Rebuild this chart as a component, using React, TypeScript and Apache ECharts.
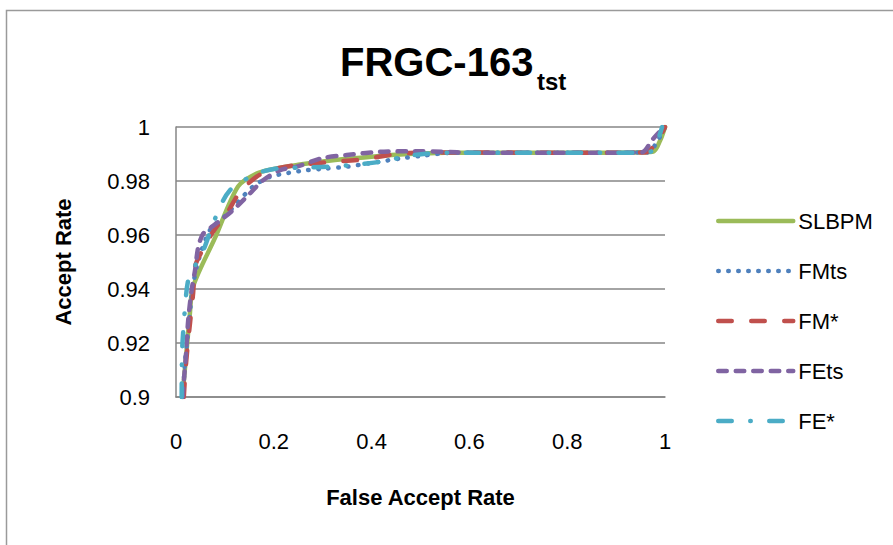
import React, { useEffect, useRef } from "react";
import * as echarts from "echarts";

const seriesNames = ["SLBPM", "FMts", "FM*", "FEts", "FE*"];
const seriesColors = ["#9BBB59", "#4F81BD", "#C0504D", "#8064A2", "#4BACC6"];

const xTickLabels = ["0", "0.2", "0.4", "0.6", "0.8", "1"];
const yTickLabels = ["0.9", "0.92", "0.94", "0.96", "0.98", "1"];

const slbpmX = [0.013, 0.018, 0.022, 0.028, 0.035, 0.08, 0.127, 0.165, 0.2, 0.25, 0.3, 0.35, 0.4, 0.45, 0.5, 0.55, 0.6, 0.7, 0.8, 0.9, 0.975, 0.99, 1.0];
const slbpmY = [0.9, 0.91, 0.918, 0.93, 0.9409, 0.959, 0.978, 0.9828, 0.9845, 0.986, 0.9872, 0.9882, 0.989, 0.9897, 0.9902, 0.9905, 0.9905, 0.9905, 0.9905, 0.9905, 0.9908, 0.995, 1.0];

const fmtsX = [0.014, 0.018, 0.023, 0.027, 0.033, 0.045, 0.07, 0.1, 0.124, 0.158, 0.192, 0.23, 0.267, 0.3, 0.349, 0.397, 0.465, 0.505, 0.55, 0.6, 0.7, 0.8, 0.9, 0.965, 0.985, 1.0];
const fmtsY = [0.9, 0.912, 0.921, 0.928, 0.939, 0.95, 0.962, 0.967, 0.9717, 0.978, 0.9815, 0.983, 0.984, 0.9845, 0.9853, 0.9866, 0.9885, 0.9894, 0.9903, 0.9905, 0.9905, 0.9905, 0.9905, 0.9906, 0.995, 1.0];

const fmStarX = [0.016, 0.019, 0.023, 0.029, 0.035, 0.039, 0.05, 0.0695, 0.085, 0.104, 0.131, 0.165, 0.192, 0.247, 0.315, 0.383, 0.451, 0.52, 0.6, 0.7, 0.8, 0.9, 0.96, 0.985, 1.0];
const fmStarY = [0.9, 0.909, 0.9174, 0.928, 0.9384, 0.9483, 0.953, 0.9594, 0.9635, 0.968, 0.976, 0.9816, 0.984, 0.9859, 0.987, 0.988, 0.99, 0.9906, 0.9906, 0.9905, 0.9905, 0.9905, 0.9906, 0.995, 1.0];

const fetsX = [0.0137, 0.017, 0.0205, 0.025, 0.032, 0.039, 0.0457, 0.056, 0.073, 0.095, 0.117, 0.148, 0.179, 0.213, 0.247, 0.3, 0.349, 0.417, 0.49, 0.55, 0.6, 0.7, 0.8, 0.9, 0.952, 0.975, 0.998];
const fetsY = [0.9, 0.908, 0.916, 0.9285, 0.9396, 0.947, 0.9557, 0.9606, 0.963, 0.966, 0.9693, 0.9748, 0.9804, 0.984, 0.9853, 0.9885, 0.9896, 0.9908, 0.991, 0.9908, 0.9905, 0.9905, 0.9905, 0.9905, 0.9906, 0.9955, 1.0];

const feStarX = [0.0116, 0.0123, 0.015, 0.018, 0.025, 0.04, 0.056, 0.076, 0.097, 0.11, 0.124, 0.165, 0.213, 0.265, 0.315, 0.365, 0.417, 0.485, 0.553, 0.6, 0.7, 0.8, 0.9, 0.95, 0.972, 0.985, 0.994];
const feStarY = [0.9, 0.916, 0.925, 0.932, 0.9433, 0.949, 0.9544, 0.9643, 0.973, 0.9765, 0.9785, 0.9828, 0.9848, 0.985, 0.9853, 0.986, 0.9871, 0.9896, 0.9905, 0.9905, 0.9905, 0.9905, 0.9905, 0.9905, 0.991, 0.995, 1.0];

const FONT = '"Liberation Sans", Arial, sans-serif';

const pairs = (xs: number[], ys: number[]) => xs.map((x, i) => [x, ys[i]]);

const seriesData = [
  pairs(slbpmX, slbpmY),
  pairs(fmtsX, fmtsY),
  pairs(fmStarX, fmStarY),
  pairs(fetsX, fetsY),
  pairs(feStarX, feStarY),
];

const dashTypes: any[] = [
  "solid",
  [0.5, 9.5],
  [13.5, 19.5],
  [8.5, 9],
  [13.5, 18.5, 0.5, 18.5],
];

export default function App() {
  const ref = useRef<HTMLDivElement>(null);
  useEffect(() => {
    if (!ref.current) return;
    const chart = echarts.init(ref.current, undefined, { renderer: "svg" });
    const fmt = (v: number) => String(parseFloat(v.toFixed(2)));
    chart.setOption({
      animation: false,
      backgroundColor: "#ffffff",
      textStyle: { fontFamily: FONT },
      grid: { left: 176, right: 228, top: 127, bottom: 148 },
      xAxis: {
        type: "value",
        min: 0,
        max: 1,
        interval: 0.2,
        axisLine: { show: true, lineStyle: { color: "#868686", width: 1.5 } },
        axisTick: { show: false },
        splitLine: { show: false },
        axisLabel: {
          formatter: (v: number) => {
            const s = fmt(v);
            return xTickLabels.includes(s) ? s : "";
          },
          fontSize: 22,
          color: "#000",
          margin: 33,
          fontFamily: FONT,
        },
        name: "False Accept Rate",
        nameLocation: "middle",
        nameGap: 89,
        nameTextStyle: { fontSize: 22, fontWeight: "bold", color: "#000", fontFamily: FONT },
      },
      yAxis: {
        type: "value",
        min: 0.9,
        max: 1,
        interval: 0.02,
        axisLine: { show: true, lineStyle: { color: "#868686", width: 1.5 } },
        axisTick: { show: false },
        splitLine: { show: true, lineStyle: { color: "#868686", width: 1.5 } },
        axisLabel: {
          formatter: (v: number) => {
            const s = fmt(v);
            return yTickLabels.includes(s) ? s : "";
          },
          fontSize: 22,
          color: "#000",
          margin: 26,
          fontFamily: FONT,
        },
        name: "Accept Rate",
        nameLocation: "middle",
        nameRotate: 90,
        nameGap: 102,
        nameTextStyle: { fontSize: 22, fontWeight: "bold", color: "#000", fontFamily: FONT },
      },
      legend: {
        orient: "vertical",
        left: 716,
        top: 209,
        padding: 0,
        itemWidth: 75,
        itemHeight: 14,
        itemGap: 26,
        data: seriesNames,
        lineStyle: { width: 4.5 },
        itemStyle: { color: "rgba(0,0,0,0)", borderColor: "rgba(0,0,0,0)", borderWidth: 0, opacity: 0 },
        textStyle: { fontSize: 22, color: "#000", fontFamily: FONT, lineHeight: 24 },
      },
      graphic: [
        {
          type: "rect",
          silent: true,
          z: -1,
          shape: { x: 6.5, y: 10.5, width: 1000, height: 1000 },
          style: { fill: "none", stroke: "#9a9a9a", lineWidth: 1.5 },
        },
        {
          type: "text",
          x: 340,
          y: 62,
          style: {
            text: "FRGC-163",
            fontSize: 40,
            fontWeight: "bold",
            fontFamily: FONT,
            fill: "#000",
            align: "left",
            verticalAlign: "middle",
          },
        },
        {
          type: "text",
          x: 537,
          y: 81,
          style: {
            text: "tst",
            fontSize: 24,
            fontWeight: "bold",
            fontFamily: FONT,
            fill: "#000",
            align: "left",
            verticalAlign: "middle",
          },
        },
      ],
      series: seriesNames.map((name, i) => ({
        type: "line",
        name,
        data: seriesData[i],
        smooth: 0.3,
        symbol: "none",
        clip: true,
        itemStyle: { color: seriesColors[i] },
        lineStyle: {
          color: seriesColors[i],
          width: 4.5,
          type: dashTypes[i],
          cap: "round",
          join: "round",
        },
      })),
    });
    return () => chart.dispose();
  }, []);
  return (
    <div
      ref={ref}
      style={{ position: "absolute", left: 0, top: 0, width: 893, height: 545, background: "#fff" }}
    />
  );
}
